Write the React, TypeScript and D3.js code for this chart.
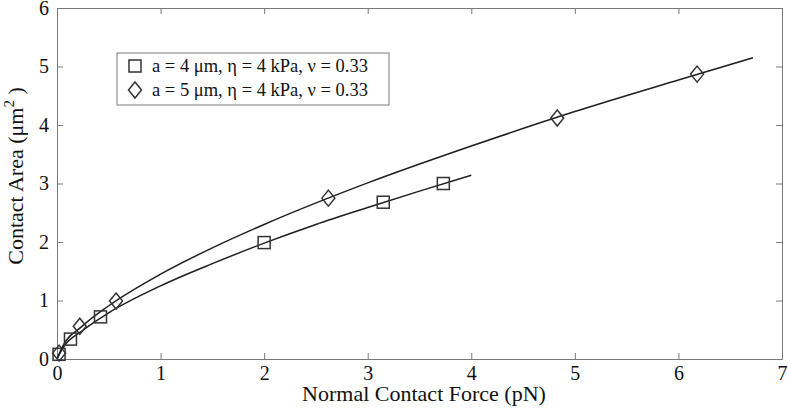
import React, { useEffect, useRef } from "react";
import * as d3 from "d3";

// measured markers, a = 4 um
const squareX = [0.02, 0.13, 0.42, 2.0, 3.15, 3.73];
const squareY = [0.08, 0.34, 0.72, 1.99, 2.68, 3.0];
// measured markers, a = 5 um
const diamondX = [0.02, 0.22, 0.57, 2.62, 4.83, 6.18];
const diamondY = [0.1, 0.56, 0.99, 2.75, 4.12, 4.87];

// fitted curves
const fit4X = [0, 0.05, 0.25, 0.5, 1, 1.5, 2, 2.5, 3, 3.5, 4];
const fit4Y = [0, 0.17, 0.49, 0.79, 1.25, 1.63, 1.98, 2.3, 2.59, 2.87, 3.14];
const fit5X = [0, 0.05, 0.25, 0.5, 1, 1.5, 2, 3, 4, 5, 6, 6.72];
const fit5Y = [0, 0.2, 0.57, 0.91, 1.45, 1.9, 2.3, 3.01, 3.64, 4.23, 4.77, 5.15];

const xTicks = [0, 1, 2, 3, 4, 5, 6, 7];
const yTicks = [0, 1, 2, 3, 4, 5, 6];
const legendLabels = [
  "a = 4 \u03bcm, \u03b7 = 4 kPa, \u03bd = 0.33",
  "a = 5 \u03bcm, \u03b7 = 4 kPa, \u03bd = 0.33",
];

const W = 788;
const H = 410;
const FONT = "'Liberation Serif', 'Times New Roman', serif";

const App = () => {
  const svgRef = useRef<SVGSVGElement>(null);

  useEffect(() => {
    const svg = d3.select(svgRef.current);
    svg.selectAll("*").remove();

    const x = d3.scaleLinear().domain([0, 7]).range([57, 782]);
    const y = d3.scaleLinear().domain([0, 6]).range([359, 8]);
    const axisColor = "#7a7a7a";
    const ink = "#1e1e1e";
    const fmt = d3.format("d");

    svg.append("rect").attr("width", W).attr("height", H).attr("fill", "#fff");

    // axes box with inward ticks on all sides (matlab style)
    const tick = 6;
    const bottom = d3.axisBottom(x).tickValues(xTicks).tickFormat(fmt as any).tickSizeInner(-tick).tickSizeOuter(0).tickPadding(7);
    const top = d3.axisTop(x).tickValues(xTicks).tickSizeInner(-tick).tickSizeOuter(0).tickFormat(() => "");
    const left = d3.axisLeft(y).tickValues(yTicks).tickFormat(fmt as any).tickSizeInner(-tick).tickSizeOuter(0).tickPadding(8);
    const right = d3.axisRight(y).tickValues(yTicks).tickSizeInner(-tick).tickSizeOuter(0).tickFormat(() => "");

    const styleAxis = (g: any) => {
      g.select(".domain").attr("stroke", axisColor);
      g.selectAll(".tick line").attr("stroke", axisColor);
      g.selectAll(".tick text")
        .attr("fill", "#111")
        .style("font-family", FONT)
        .style("font-size", "20px");
    };

    svg.append("g").attr("transform", `translate(0,${y(0)})`).call(bottom).call(styleAxis);
    svg.append("g").attr("transform", `translate(0,${y(6)})`).call(top).call(styleAxis);
    svg.append("g").attr("transform", `translate(${x(0)},0)`).call(left).call(styleAxis);
    svg.append("g").attr("transform", `translate(${x(7)},0)`).call(right).call(styleAxis);

    // fitted lines
    const line = (xs: number[], ys: number[]) =>
      d3
        .line<number>()
        .x((d) => x(xs[d]))
        .y((d) => y(ys[d]))
        .curve(d3.curveMonotoneX)(d3.range(xs.length));

    svg.append("path").attr("d", line(fit4X, fit4Y)).attr("fill", "none").attr("stroke", ink).attr("stroke-width", 1.5);
    svg.append("path").attr("d", line(fit5X, fit5Y)).attr("fill", "none").attr("stroke", ink).attr("stroke-width", 1.5);

    const square = (g: any, cx: number, cy: number) =>
      g.append("rect")
        .attr("x", cx - 6)
        .attr("y", cy - 6)
        .attr("width", 12)
        .attr("height", 12)
        .attr("fill", "none")
        .attr("stroke", "#333")
        .attr("stroke-width", 1.5);

    const diamond = (g: any, cx: number, cy: number) =>
      g.append("path")
        .attr("d", `M${cx},${cy - 8}L${cx + 6.5},${cy}L${cx},${cy + 8}L${cx - 6.5},${cy}Z`)
        .attr("fill", "none")
        .attr("stroke", "#333")
        .attr("stroke-width", 1.5);

    const marks = svg.append("g");
    squareX.forEach((v, i) => square(marks, x(v), y(squareY[i])));
    diamondX.forEach((v, i) => diamond(marks, x(v), y(diamondY[i])));

    // legend
    const lg = svg.append("g");
    lg.append("rect")
      .attr("x", 117)
      .attr("y", 53)
      .attr("width", 272)
      .attr("height", 52)
      .attr("fill", "#fff")
      .attr("stroke", axisColor);
    square(lg, 135, 66);
    diamond(lg, 135, 90);
    legendLabels.forEach((t, i) => {
      lg.append("text")
        .attr("x", 152)
        .attr("y", 66 + i * 24)
        .attr("dy", "0.35em")
        .attr("fill", "#111")
        .style("font-family", FONT)
        .style("font-size", "18.5px")
        .text(t);
    });

    // axis titles
    svg.append("text")
      .attr("x", 424)
      .attr("y", 401)
      .attr("text-anchor", "middle")
      .attr("fill", "#111")
      .style("font-family", FONT)
      .style("font-size", "22px")
      .text("Normal Contact Force (pN)");

    const yt = svg.append("text")
      .attr("transform", "translate(23,176) rotate(-90)")
      .attr("text-anchor", "middle")
      .attr("fill", "#111")
      .style("font-family", FONT)
      .style("font-size", "22px");
    yt.append("tspan").text("Contact Area (\u03bcm");
    yt.append("tspan").attr("dy", -9).style("font-size", "15px").text("2");
    yt.append("tspan").attr("dy", 9).text(" )");
  }, []);

  return (
    <svg
      ref={svgRef}
      width={W}
      height={H}
      style={{ position: "absolute", left: 0, top: 0 }}
    ></svg>
  );
};

export default App;
